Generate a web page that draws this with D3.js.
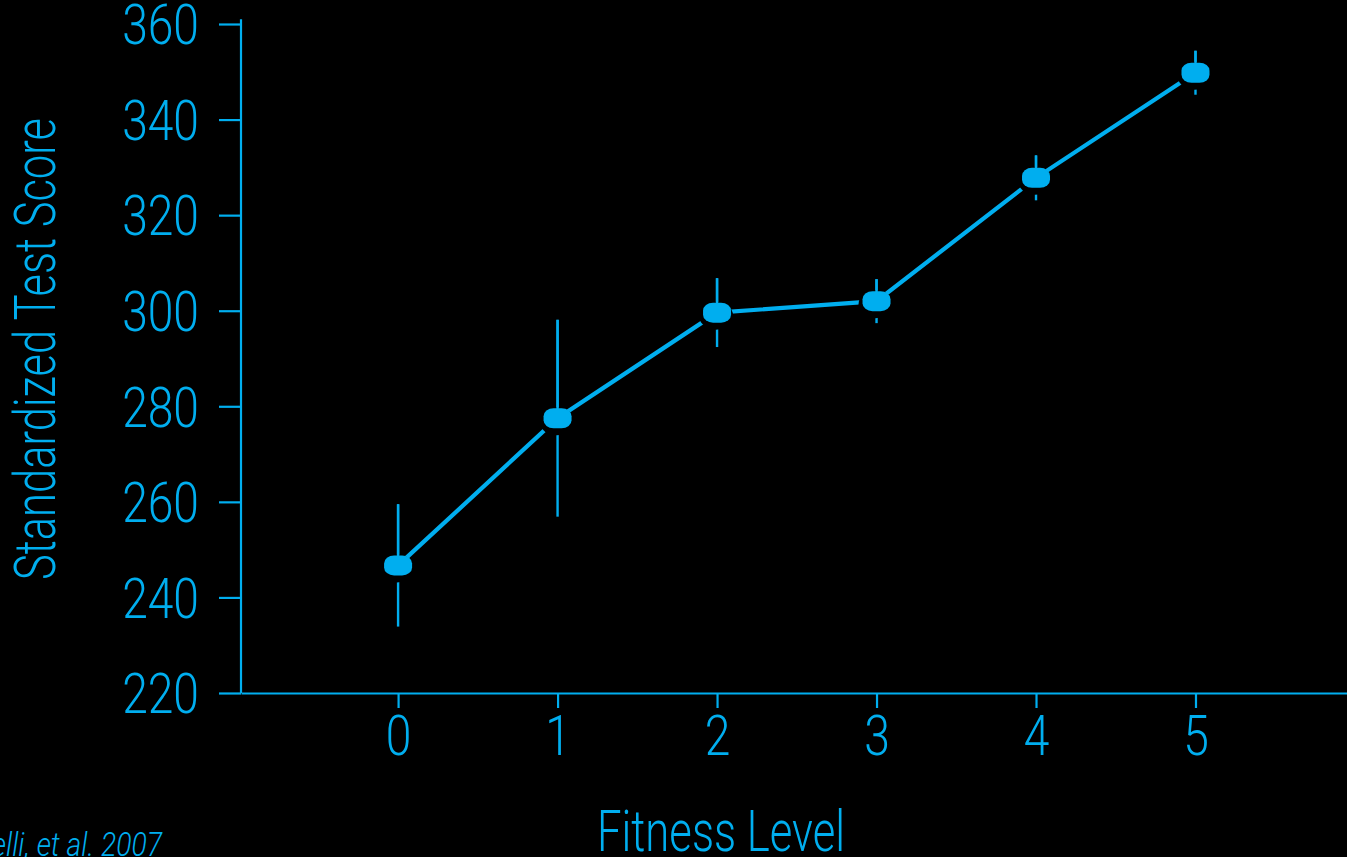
<!DOCTYPE html>
<html>
<head>
<meta charset="utf-8">
<script src="https://cdn.jsdelivr.net/npm/d3@7"></script>
<style>
  html, body { margin: 0; padding: 0; background: #000; }
  svg { display: block; }
  text { font-family: "Roboto", "Liberation Sans", sans-serif; font-weight: 300; fill: #00AEEF; }
</style>
</head>
<body>
<svg id="chart" width="1347" height="857"></svg>
<script>
// ---- data ----
const fitnessLevels = [0, 1, 2, 3, 4, 5];
const meanScores    = [246.7, 277.5, 299.6, 302.0, 327.8, 349.8];
const errorMargins  = [12.8, 20.6, 7.2, 4.6, 4.7, 4.6];
const yTickValues   = [220, 240, 260, 280, 300, 320, 340, 360];
const xTickValues   = [0, 1, 2, 3, 4, 5];
const xAxisTitle = "Fitness Level";
const yAxisTitle = "Standardized Test Score";
const citation   = "Castelli, et al. 2007";

const color = "#00AEEF";
const W = 1347, H = 857;
const SX = 0.84; // horizontal condensing of the typeface
const svg = d3.select("#chart");
svg.append("rect").attr("width", W).attr("height", H).attr("fill", "#000");

const x = d3.scaleLinear().domain([-0.985, 5.95]).range([241, 1347]);
const y = d3.scaleLinear().domain([220, 360]).range([693, 24]);

// y axis
const yAxis = svg.append("g").attr("transform", `translate(${x(-0.985)},0)`)
  .call(d3.axisLeft(y).tickValues(yTickValues).tickSize(22).tickSizeOuter(0).tickPadding(20).tickFormat(d3.format("d")));
yAxis.select(".domain").attr("d", `M0,${y(220)}V${y(361)}`);
// x axis
const xAxis = svg.append("g").attr("transform", `translate(0,${y(220)})`)
  .call(d3.axisBottom(x).tickValues(xTickValues).tickSize(15).tickSizeOuter(0).tickPadding(8).tickFormat(d3.format("d")));
[yAxis, xAxis].forEach(g => {
  g.selectAll("path, line").attr("stroke", color).attr("stroke-width", 2.2);
  g.selectAll("text").attr("fill", color).style("font-size", "55px")
    .style("font-family", '"Roboto", "Liberation Sans", sans-serif').style("font-weight", 300)
    .attr("transform", `scale(${SX},1)`);
});
yAxis.selectAll("text").attr("x", -42 / SX).attr("dy", "0.36em");
xAxis.selectAll("text").attr("dy", "0.71em");

const pts = fitnessLevels.map((f, i) => ({ f, m: meanScores[i], e: errorMargins[i] }));
const mw = 28, mh = 20;

// error bars
svg.append("g").selectAll("line").data(pts).join("line")
  .attr("x1", d => x(d.f)).attr("x2", d => x(d.f))
  .attr("y1", d => y(d.m + d.e)).attr("y2", d => y(d.m - d.e))
  .attr("stroke", color).attr("stroke-width", 2.4);

// connecting line
svg.append("path").datum(pts)
  .attr("d", d3.line().x(d => x(d.f)).y(d => y(d.m)))
  .attr("fill", "none").attr("stroke", color).attr("stroke-width", 4.2);

// black halo (offset) then markers
svg.append("g").selectAll("ellipse").data(pts).join("ellipse")
  .attr("cx", d => x(d.f) - 1).attr("cy", d => y(d.m) + 3)
  .attr("rx", mw / 2 + 3).attr("ry", mh / 2 + 4).attr("fill", "#000");
svg.append("g").selectAll("line").data(pts).join("line")
  .attr("x1", d => x(d.f)).attr("x2", d => x(d.f))
  .attr("y1", d => y(d.m + d.e)).attr("y2", d => y(d.m))
  .attr("stroke", color).attr("stroke-width", 2.4);
svg.append("g").selectAll("rect").data(pts).join("rect")
  .attr("x", d => x(d.f) - mw / 2).attr("y", d => y(d.m) - mh / 2)
  .attr("width", mw).attr("height", mh).attr("rx", 10).attr("ry", 8)
  .attr("fill", color);

// titles (condensed horizontally to match the narrow typeface)
function fitText(sel, target) {
  const w = sel.node().getComputedTextLength();
  return target / w;
}
const xt = svg.append("text").attr("text-anchor", "middle")
  .style("font-size", "57px").text(xAxisTitle);
const sx1 = fitText(xt, 248);
xt.attr("transform", `translate(721,851) scale(${sx1},1)`);

const yt = svg.append("text").attr("text-anchor", "middle")
  .style("font-size", "57px").text(yAxisTitle);
const sx2 = fitText(yt, 462);
yt.attr("transform", `translate(55,349) rotate(-90) scale(${sx2},1)`);

svg.append("text").attr("text-anchor", "end")
  .attr("transform", `translate(162,856) scale(0.86,1)`)
  .style("font-size", "33px").style("font-style", "italic").text(citation);
</script>
</body>
</html>
